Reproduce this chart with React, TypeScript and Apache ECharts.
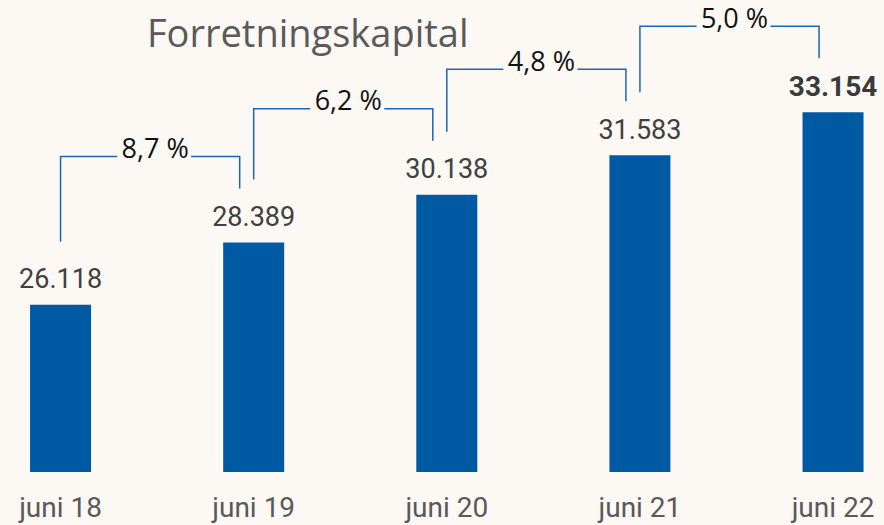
import React, { useEffect, useRef } from "react";
import * as echarts from "echarts";

const categories = ["juni 18", "juni 19", "juni 20", "juni 21", "juni 22"];
const values = [26118, 28389, 30138, 31583, 33154];
const valueLabels = ["26.118", "28.389", "30.138", "31.583", "33.154"];
const growthLabels = ["8,7 %", "6,2 %", "4,8 %", "5,0 %"];
const titleText = "Forretningskapital";

const BG = "#FCF8F4";
const BAR = "#0059A3";
const LINE = "#1E66B4";

export default function App() {
  const ref = useRef<HTMLDivElement>(null);
  useEffect(() => {
    if (!ref.current) return;
    const chart = echarts.init(ref.current, undefined, { renderer: "svg" });
    const bracketData = growthLabels.map((_, i) => [i, values[i], values[i + 1]]);
    chart.setOption({
      animation: false,
      backgroundColor: BG,
      title: {
        text: titleText,
        left: 142,
        top: 8,
        textStyle: { fontFamily: "Open Sans", fontWeight: "normal", fontSize: 38, color: "#5A5A5A" },
      },
      grid: { left: -36, right: -45.6, top: 7, bottom: 53, outerBoundsMode: "none", containLabel: false },
      xAxis: {
        type: "category",
        data: categories,
        boundaryGap: true,
        axisLine: { show: false },
        axisTick: { show: false },
        axisLabel: {
          margin: 21,
          fontFamily: "Roboto, sans-serif",
          fontSize: 28,
          color: "#595959",
        },
      },
      yAxis: { type: "value", min: 20000, max: 37000, show: false, splitLine: { show: false } },
      series: [
        {
          type: "bar",
          barWidth: 61,
          itemStyle: { color: BAR },
          data: values.map((v, i) => ({
            value: v,
            label:
              i === values.length - 1
                ? { fontWeight: "bold", fontSize: 28, color: "#3A3A3A" }
                : undefined,
          })),
          label: {
            show: true,
            position: "top",
            distance: 12,
            fontFamily: "Roboto, sans-serif",
            fontSize: 27,
            color: "#404040",
            formatter: (p: any) => valueLabels[p.dataIndex],
          },
        },
        {
          type: "custom",
          clip: false,
          silent: true,
          data: bracketData,
          renderItem: (params: any, api: any) => {
            const i = api.value(0);
            const p1 = api.coord([i, api.value(1)]);
            const p2 = api.coord([i + 1, api.value(2)]);
            const lx = p1[0];
            const rx = p2[0] - 14;
            const hy = p2[1] - 86;
            const lb = p1[1] - 63;
            const rb = p2[1] - 54;
            const mid = (lx + rx) / 2 + 5;
            const lineStyle = { stroke: LINE, lineWidth: 1.5, fill: "none" };
            return {
              type: "group",
              children: [
                {
                  type: "polyline",
                  shape: { points: [[lx, lb], [lx, hy], [mid - 38, hy]] },
                  style: lineStyle,
                },
                {
                  type: "polyline",
                  shape: { points: [[mid + 36, hy], [rx, hy], [rx, rb]] },
                  style: lineStyle,
                },
                {
                  type: "text",
                  style: {
                    text: growthLabels[params.dataIndex],
                    x: mid,
                    y: hy - 9,
                    align: "center",
                    verticalAlign: "middle",
                    fontFamily: "Open Sans",
                    fontSize: 27,
                    fill: "#111111",
                  },
                },
              ],
            };
          },
        },
      ],
    });
    return () => chart.dispose();
  }, []);
  return (
    <div
      ref={ref}
      style={{ position: "fixed", left: 0, top: 0, width: 884, height: 525 }}
    />
  );
}
